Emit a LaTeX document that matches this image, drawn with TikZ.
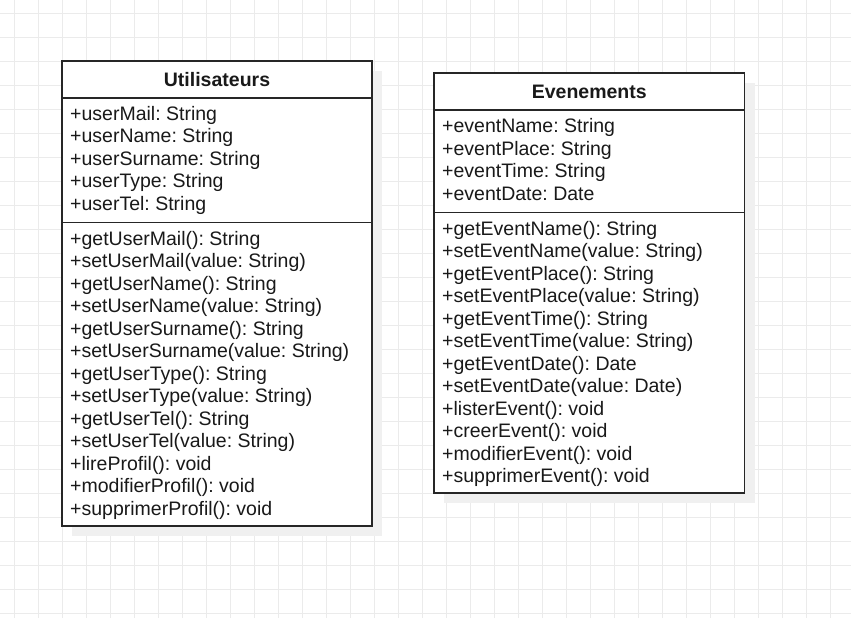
\documentclass[tikz,border=0pt]{standalone}
\usepackage{fontspec}
\setmainfont{Liberation Sans}
\frenchspacing
\tikzset{
  gridline/.style={draw=black!8, line width=0.8pt},
  umlbox/.style={draw=black!85, line width=1.6pt, fill=white},
  shadowbox/.style={fill=black!6, draw=none},
  sepline/.style={draw=black!85, line width=1.4pt},
  member/.style={anchor=base west, inner sep=0pt, font=\fontsize{19.5}{22.5}\selectfont, text=black!90},
  classtitle/.style={anchor=base, inner sep=0pt, font=\bfseries\fontsize{19.5}{22.5}\selectfont, text=black!90},
}
\begin{document}
\begin{tikzpicture}[x=1pt,y=-1pt]
\useasboundingbox (0,0) rectangle (851,618);
\fill[white] (0,0) rectangle (851,618);
% grid
\foreach \k in {0,...,34} \draw[gridline] ({14.3+24*\k},0) -- ({14.3+24*\k},618);
\foreach \k in {0,...,25} \draw[gridline] (0,{13.3+24*\k}) -- (851,{13.3+24*\k});

% ---------- Utilisateurs ----------
\coordinate (u-nw) at (62,61);
\coordinate (u-se) at (372,526);
\fill[shadowbox] (72,71) rectangle (382,536);
\draw[umlbox] (u-nw) rectangle (u-se);
\coordinate (u-h1) at (62,98);   \coordinate (u-h2) at (372,98);
\coordinate (u-s1) at (62,222.3); \coordinate (u-s2) at (372,222.3);
\draw[sepline] (u-h1) -- (u-h2);
\draw[sepline] (u-s1) -- (u-s2);
\node[classtitle] (u-title) at (217,86.8) {Utilisateurs};
\foreach \t [count=\i] in {+userMail: String,+userName: String,+userSurname: String,+userType: String,+userTel: String}
  \node[member] (u-a\i) at (70,{120.3+22.5*(\i-1)}) {\t};
\foreach \t [count=\i] in {+getUserMail(): String,+setUserMail(value: String),+getUserName(): String,+setUserName(value: String),+getUserSurname(): String,+setUserSurname(value: String),+getUserType(): String,+setUserType(value: String),+getUserTel(): String,+setUserTel(value: String),+lireProfil(): void,+modifierProfil(): void,+supprimerProfil(): void}
  \node[member] (u-m\i) at (70,{245+22.5*(\i-1)}) {\t};

% ---------- Evenements ----------
\coordinate (e-nw) at (434,73);
\coordinate (e-se) at (744.5,493);
\fill[shadowbox] (444,83) rectangle (754.5,503);
\draw[umlbox] (e-nw) rectangle (e-se);
\coordinate (e-h1) at (434,110);   \coordinate (e-h2) at (744.5,110);
\coordinate (e-s1) at (434,212.7); \coordinate (e-s2) at (744.5,212.7);
\draw[sepline] (e-h1) -- (e-h2);
\draw[sepline] (e-s1) -- (e-s2);
\node[classtitle] (e-title) at (589.25,98.8) {Evenements};
\foreach \t [count=\i] in {+eventName: String,+eventPlace: String,+eventTime: String,+eventDate: Date}
  \node[member] (e-a\i) at (442,{132.5+22.5*(\i-1)}) {\t};
\foreach \t [count=\i] in {+getEventName(): String,+setEventName(value: String),+getEventPlace(): String,+setEventPlace(value: String),+getEventTime(): String,+setEventTime(value: String),+getEventDate(): Date,+setEventDate(value: Date),+listerEvent(): void,+creerEvent(): void,+modifierEvent(): void,+supprimerEvent(): void}
  \node[member] (e-m\i) at (442,{235+22.5*(\i-1)}) {\t};
\end{tikzpicture}
\end{document}
